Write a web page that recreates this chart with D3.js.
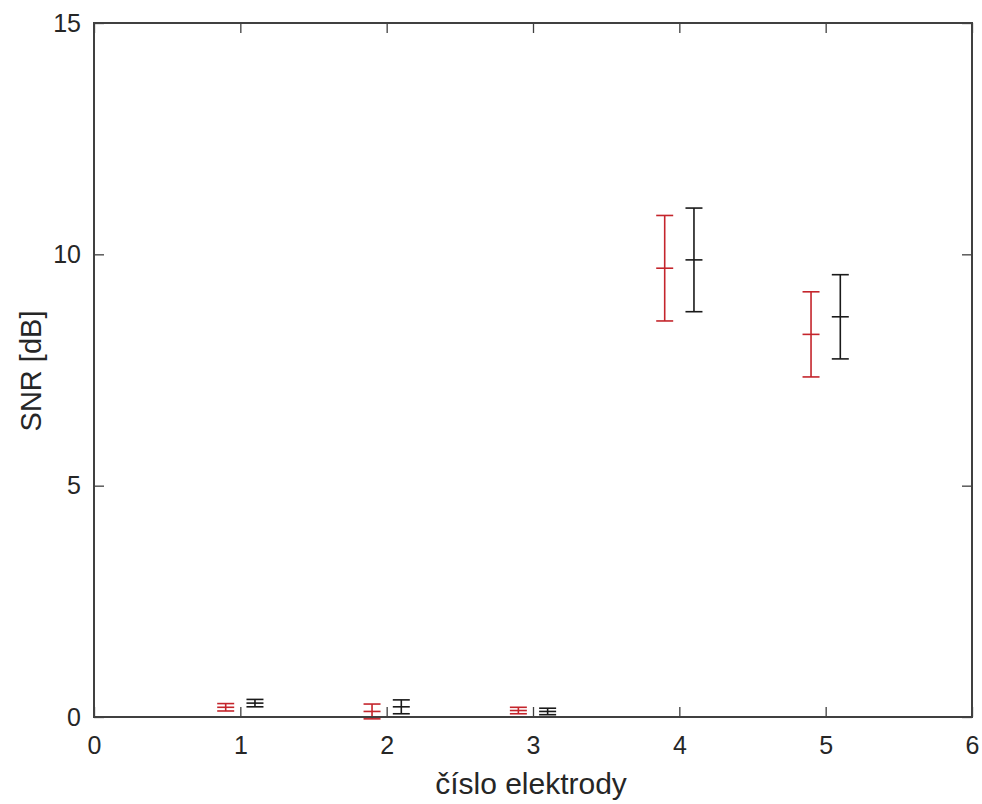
<!DOCTYPE html>
<html>
<head>
<meta charset="utf-8">
<script src="https://cdn.jsdelivr.net/npm/d3@7"></script>
<style>
  html, body { margin: 0; padding: 0; background: #fff; }
  #chart { width: 982px; height: 804px; }
</style>
</head>
<body>
<div id="chart"></div>
<script>
// electrode positions (red shifted left, black shifted right)
const redX = [0.9, 1.9, 2.9, 3.9, 4.9];
const redMean = [0.21, 0.12, 0.14, 9.70, 8.27];
const redErr = [0.08, 0.16, 0.07, 1.14, 0.92];

const blackX = [1.1, 2.1, 3.1, 4.1, 5.1];
const blackMean = [0.30, 0.22, 0.12, 9.88, 8.65];
const blackErr = [0.08, 0.15, 0.07, 1.12, 0.91];

const xTicks = [0, 1, 2, 3, 4, 5, 6];
const yTicks = [0, 5, 10, 15];

const W = 982, H = 804;
const margin = { top: 23, right: 10, bottom: 87, left: 94 };
const innerW = W - margin.left - margin.right;
const innerH = H - margin.top - margin.bottom;
const axisColor = '#404040';
const font = '"Liberation Sans", Arial, Helvetica, sans-serif';

const x = d3.scaleLinear().domain([0, 6]).range([0, innerW]);
const y = d3.scaleLinear().domain([0, 15]).range([innerH, 0]);

const svg = d3.select('#chart').append('svg').attr('width', W).attr('height', H);
const g = svg.append('g').attr('transform', `translate(${margin.left},${margin.top})`);

function errorBars(xs, means, errs, color) {
  const data = xs.map((xv, i) => ({ x: xv, m: means[i], e: errs[i] }));
  const cap = 8.5;
  const grp = g.append('g').attr('stroke', color).attr('stroke-width', 1.6).attr('fill', 'none');
  grp.selectAll('line.v').data(data).join('line').attr('class', 'v')
    .attr('x1', (d) => x(d.x)).attr('x2', (d) => x(d.x))
    .attr('y1', (d) => y(d.m + d.e)).attr('y2', (d) => y(d.m - d.e));
  ['top', 'mid', 'bot'].forEach((k) => {
    const val = (d) => (k === 'top' ? d.m + d.e : k === 'mid' ? d.m : d.m - d.e);
    grp.selectAll('line.' + k).data(data).join('line').attr('class', k)
      .attr('x1', (d) => x(d.x) - cap).attr('x2', (d) => x(d.x) + cap)
      .attr('y1', (d) => y(val(d))).attr('y2', (d) => y(val(d)));
  });
}

errorBars(redX, redMean, redErr, '#c4252c');
errorBars(blackX, blackMean, blackErr, '#1a1a1a');

// axes: ticks inward on all four sides
const tickLen = 10;
const styleAxis = (a) => {
  a.select('.domain').remove();
  a.selectAll('line').attr('stroke', axisColor).attr('stroke-width', 1.3);
  a.selectAll('text').attr('fill', '#262626').style('font-family', font).style('font-size', '25px');
};

g.append('g').attr('transform', `translate(0,${innerH})`)
  .call(d3.axisBottom(x).tickValues(xTicks).tickFormat(d3.format('d')).tickSize(-tickLen).tickPadding(19))
  .call(styleAxis);
g.append('g')
  .call(d3.axisTop(x).tickValues(xTicks).tickFormat('').tickSize(-tickLen))
  .call(styleAxis);
g.append('g')
  .call(d3.axisLeft(y).tickValues(yTicks).tickFormat(d3.format('d')).tickSize(-tickLen).tickPadding(13))
  .call(styleAxis);
g.append('g').attr('transform', `translate(${innerW},0)`)
  .call(d3.axisRight(y).tickValues(yTicks).tickFormat('').tickSize(-tickLen))
  .call(styleAxis);

// box
g.append('rect')
  .attr('x', 0).attr('y', 0).attr('width', innerW).attr('height', innerH)
  .attr('fill', 'none').attr('stroke', axisColor).attr('stroke-width', 2);

// axis labels
svg.append('text')
  .attr('x', margin.left + innerW / 2 - 2).attr('y', 794)
  .attr('text-anchor', 'middle')
  .attr('fill', '#262626')
  .style('font-family', font).style('font-size', '30px')
  .text('číslo elektrody');

svg.append('text')
  .attr('transform', `translate(41,${margin.top + innerH / 2 + 1}) rotate(-90)`)
  .attr('text-anchor', 'middle')
  .attr('fill', '#262626')
  .style('font-family', font).style('font-size', '29px')
  .text('SNR [dB]');
</script>
</body>
</html>
